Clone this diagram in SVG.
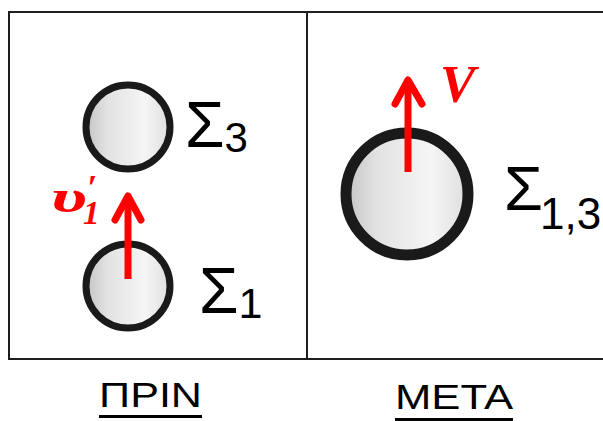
<svg xmlns="http://www.w3.org/2000/svg" width="603" height="421" viewBox="0 0 603 421">
<defs>
<linearGradient id="ball" x1="0" y1="0" x2="1" y2="0">
<stop offset="0" stop-color="#c4c4c4"/>
<stop offset="0.25" stop-color="#e2e2e2"/>
<stop offset="0.7" stop-color="#f5f5f5"/>
<stop offset="1" stop-color="#dedede"/>
</linearGradient>
<style>
.frame{fill:none;stroke:#1e1e1e;stroke-width:2}
.ball{fill:url(#ball);stroke:#1a1a1a}
.lab{font-family:"Liberation Sans",Arial,sans-serif;fill:#000}
.red{font-family:"Liberation Serif","Times New Roman",serif;font-weight:bold;font-style:italic;fill:#ff0000}
.shaft{stroke:#ff0000;stroke-width:7;fill:none}
.head{stroke:#ff0000;stroke-width:7;fill:none;stroke-linecap:round;stroke-linejoin:round}
</style>
</defs>
<rect width="603" height="421" fill="#ffffff"/>
<g id="frame">
<rect class="frame" x="9" y="12" width="600" height="347"/>
<line class="frame" x1="307" y1="12" x2="307" y2="359"/>
</g>
<g id="sigma3">
<circle class="ball" cx="128" cy="127" r="42" stroke-width="7"/>
<text class="lab" x="185" y="147" font-size="64">Σ<tspan font-size="42" dy="5">3</tspan></text>
</g>
<g id="sigma1">
<circle class="ball" cx="128" cy="286" r="42" stroke-width="7"/>
<text class="lab" x="199" y="313" font-size="64">Σ<tspan font-size="43" dy="5">1</tspan></text>
</g>
<g id="sigma13">
<circle class="ball" cx="407" cy="194" r="61" stroke-width="11"/>
<text class="lab" x="504" y="210" font-size="63">Σ<tspan font-size="44" dx="-3" dy="19">1,3</tspan></text>
</g>
<g id="connectors">
<line class="shaft" x1="128" y1="279" x2="128" y2="198"/>
<polyline class="head" points="115,220 128,196 141,220"/>
<line class="shaft" x1="408" y1="172" x2="408" y2="82"/>
<polyline class="head" points="395,104 408,80 422,104"/>
</g>
<g id="labels">
<text class="red" x="51" y="212" font-size="46"><tspan textLength="36" lengthAdjust="spacingAndGlyphs">υ</tspan><tspan x="87" y="200" font-size="36">′</tspan><tspan x="83" y="224" font-size="33">1</tspan></text>
<text class="red" x="440" y="102" font-size="53">V</text>
<text class="lab" x="99" y="407" font-size="35" textLength="103" lengthAdjust="spacingAndGlyphs">ΠΡΙΝ</text>
<rect x="99" y="415" width="103" height="3" fill="#000"/>
<text class="lab" x="395" y="409" font-size="35" textLength="118" lengthAdjust="spacingAndGlyphs">ΜΕΤΑ</text>
<rect x="395" y="418" width="118" height="3" fill="#000"/>
</g>
</svg>
